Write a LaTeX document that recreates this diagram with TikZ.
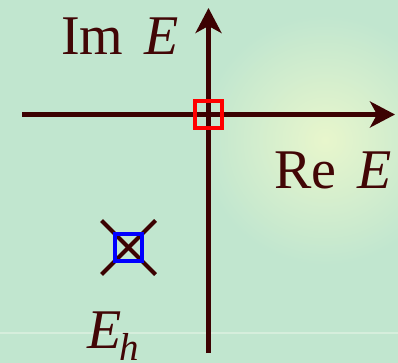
\documentclass[tikz,border=0pt]{standalone}
\usepackage{fontspec}
\setmainfont{Liberation Serif}
\usetikzlibrary{arrows.meta}
\definecolor{bg}{HTML}{C1E6CF}
\definecolor{glow}{HTML}{E8F6CC}
\definecolor{axis}{HTML}{3C0202}
\definecolor{txt}{HTML}{420606}
\definecolor{band}{HTML}{D6EEDC}
\tikzset{
  axisline/.style={draw=axis, line width=4.2pt, -{Stealth[length=25pt,width=26pt,inset=7pt]}},
  marker/.style={draw, line width=4pt, minimum size=27pt, inner sep=0pt, outer sep=0pt},
  crossline/.style={draw=axis, line width=4pt},
  lbl/.style={text=txt, font=\fontsize{56}{60}\selectfont, inner sep=0pt, anchor=base west}
}
\begin{document}
\begin{tikzpicture}[x=1pt,y=-1pt]
\useasboundingbox (0,0) rectangle (398,363);
\fill[bg] (0,0) rectangle (398,363);
\shade[inner color=glow, outer color=bg] (325,140) circle (125);
\draw[band, line width=1.5pt] (0,333) -- (398,333);
% axes
\coordinate (hl) at (22,114.5);
\coordinate (hr) at (395,114.5);
\coordinate (vb) at (208.5,353);
\coordinate (vt) at (208.5,8);
\draw[axisline] (hl) -- (hr);
\draw[axisline] (vb) -- (vt);
% origin marker
\node[marker, draw=red] (origin) at (208.5,114.5) {};
% E_h marker
\coordinate (c1) at (101.5,220.5);
\coordinate (c2) at (155.5,274.5);
\coordinate (c3) at (155.5,220.5);
\coordinate (c4) at (101.5,274.5);
\draw[crossline] (c1) -- (c2);
\draw[crossline] (c3) -- (c4);
\node[marker, draw={rgb,255:red,0;green,0;blue,255}] (eh) at (128.5,247.5) {};
% labels
\node[lbl] (im) at (61,55) {Im\hspace{21pt}\textit{E}};
\node[lbl] (re) at (274,189) {Re\hspace{21pt}\textit{E}};
\node[lbl] (ehl) at (87,348) {\textit{E}\hspace{-2pt}\raisebox{-12pt}{\fontsize{39}{40}\selectfont\textit{h}}};
\end{tikzpicture}
\end{document}
